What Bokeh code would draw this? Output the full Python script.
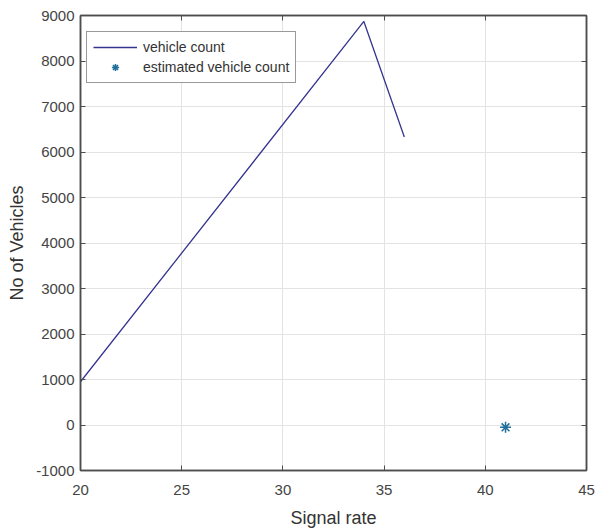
from bokeh.plotting import figure
from bokeh.models import LinearAxis, Range1d, Legend, LegendItem, FixedTicker
from bokeh.embed import file_html
from bokeh.resources import INLINE

# data
signal_rate = [20, 34, 36]
vehicle_count = [950, 8870, 6330]
est_signal_rate = [41]
est_vehicle_count = [-50]
x_ticks = [20, 25, 30, 35, 40, 45]
y_ticks = [-1000, 0, 1000, 2000, 3000, 4000, 5000, 6000, 7000, 8000, 9000]
y_tick_labels = ["-1000", "0", "1000", "2000", "3000", "4000", "5000", "6000", "7000", "8000", "9000"]

FONT = "Liberation Sans"
p = figure(frame_width=506, frame_height=455, min_border_left=80, min_border_right=10,
           min_border_top=15, min_border_bottom=61,
           x_range=Range1d(20, 45), y_range=Range1d(-1000, 9000),
           output_backend="svg", toolbar_location=None)
p.outline_line_color = "#4d4d4d"
p.outline_line_width = 1.5
p.background_fill_color = "white"
p.border_fill_color = "white"

for ax in (p.xaxis[0], p.yaxis[0]):
    ax.major_tick_in = 5
    ax.major_tick_out = 0
    ax.minor_tick_in = 0
    ax.minor_tick_out = 0
    ax.axis_line_color = "#4d4d4d"
    ax.axis_line_width = 1.5
    ax.major_tick_line_color = "#4d4d4d"
    ax.major_label_text_font = FONT
    ax.major_label_text_font_size = "15px"
    ax.major_label_text_color = "#444444"
    ax.axis_label_text_font = FONT
    ax.axis_label_text_font_size = "18px"
    ax.axis_label_text_font_style = "normal"
    ax.axis_label_text_color = "#333333"

p.xaxis.ticker = FixedTicker(ticks=x_ticks)
p.yaxis.ticker = FixedTicker(ticks=y_ticks)
p.yaxis.major_label_overrides = dict(zip(y_ticks, y_tick_labels))
p.xaxis.axis_label = "Signal rate"
p.yaxis.axis_label = "No of Vehicles"
p.xaxis.major_label_standoff = 14
p.yaxis.major_label_standoff = 6
p.xaxis.axis_label_standoff = 10
p.yaxis.axis_label_standoff = 6

for loc, ticks in (("above", x_ticks), ("right", y_ticks)):
    a = LinearAxis(ticker=FixedTicker(ticks=ticks),
                   major_label_overrides={t: "" for t in ticks},
                   major_tick_in=5, major_tick_out=0, minor_tick_in=0, minor_tick_out=0,
                   axis_line_color="#4d4d4d", axis_line_width=1.5,
                   major_tick_line_color="#4d4d4d", major_label_standoff=0)
    p.add_layout(a, loc)

p.grid.grid_line_color = "#e3e3e3"
p.grid.grid_line_width = 1
p.xgrid.ticker = FixedTicker(ticks=x_ticks)
p.ygrid.ticker = FixedTicker(ticks=y_ticks)

r1 = p.line(signal_rate, vehicle_count, line_color="#35358f", line_width=1.3)
r2 = p.scatter(est_signal_rate, est_vehicle_count, marker="asterisk", size=11,
               line_color="#1f6f9a", line_width=1.5)

legend = Legend(items=[LegendItem(label="vehicle count", renderers=[r1]),
                       LegendItem(label="estimated vehicle count", renderers=[r2])],
                location=(6, 387))
legend.label_text_font = FONT
legend.label_text_font_size = "14px"
legend.label_text_color = "#333333"
legend.border_line_color = "#333333"
legend.border_line_width = 1.5
legend.glyph_width = 44
legend.glyph_height = 18
legend.label_height = 18
legend.spacing = 2
legend.padding = 6
legend.margin = 0
legend.label_standoff = 6
p.add_layout(legend, "center")

open("out.html", "w").write(file_html(p, INLINE))
